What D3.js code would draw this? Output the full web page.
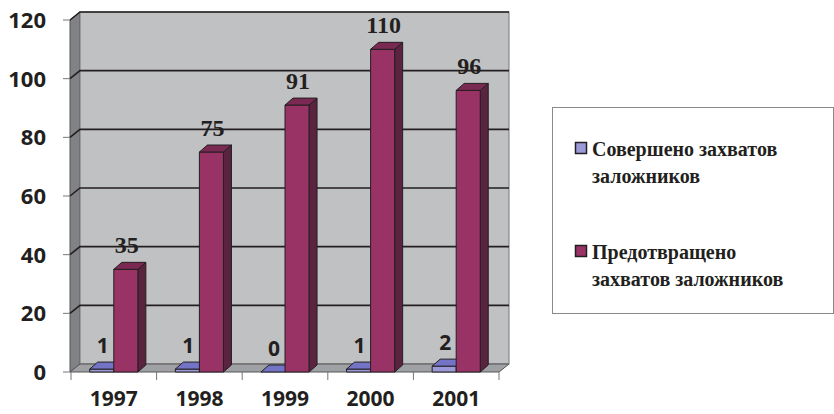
<!DOCTYPE html>
<html>
<head>
<meta charset="utf-8">
<script src="https://cdn.jsdelivr.net/npm/d3@7"></script>
<style>
  html, body { margin: 0; padding: 0; background: #fff; }
  svg { display: block; }
  .serif { font-family: "Liberation Serif", "DejaVu Serif", "Noto Serif", serif; font-weight: bold; }
  .sans { font-family: "Open Sans", "Liberation Sans", sans-serif; font-weight: bold; }
</style>
</head>
<body>
<svg id="chart" width="834" height="414"></svg>
<script>
// Hostage-taking statistics by year
const years = ["1997", "1998", "1999", "2000", "2001"];
const committed = [1, 1, 0, 1, 2];        // Совершено захватов заложников
const prevented = [35, 75, 91, 110, 96];  // Предотвращено захватов заложников
const seriesNames = ["Совершено захватов заложников", "Предотвращено захватов заложников"];
const legendLines = [["Совершено захватов", "заложников"], ["Предотвращено", "захватов заложников"]];
const yTicks = [0, 20, 40, 60, 80, 100, 120];

const svg = d3.select("#chart");

// plot geometry
const x0 = 71, x1 = 499, yBase = 372, yTop = 20;
const wallDX = 10, wallDY = -8;   // depth of walls/floor
const barDX = 8, barDY = -7;      // depth of bars

const x = d3.scaleBand().domain(years).range([x0, x1]).padding(0);
const xs = d3.scaleBand().domain(seriesNames).range([0, x.bandwidth()])
  .paddingInner(0).paddingOuter(0.78);
const y = d3.scaleLinear().domain([0, 120]).range([yBase, yTop]);

const seriesColors = [
  { front: "#9a9ad8", top: "#7474c6", side: "#5c5ca8" },
  { front: "#993366", top: "#7a2952", side: "#5a2340" }
];
const lineCol = "#231f20";

const pts = a => a.map(p => p.join(",")).join(" ");

// left wall
svg.append("polygon")
  .attr("points", pts([[x0 - 1, y(0)], [x0 - 1, y(120)], [x0 - 1 + wallDX, y(120) + wallDY], [x0 - 1 + wallDX, y(0) + wallDY]]))
  .attr("fill", "#808285").attr("stroke", "#555").attr("stroke-width", 1);

// back wall
svg.append("rect")
  .attr("x", x0 - 1 + wallDX).attr("y", y(120) + wallDY)
  .attr("width", x1 - x0 + 1).attr("height", y(0) - y(120))
  .attr("fill", "#c0c1c3").attr("stroke", "#777").attr("stroke-width", 1);

// floor
svg.append("polygon")
  .attr("points", pts([[x0 - 1, y(0)], [x1, y(0)], [x1 + wallDX, y(0) + wallDY], [x0 - 1 + wallDX, y(0) + wallDY]]))
  .attr("fill", "#a0a1a4").attr("stroke", "#555").attr("stroke-width", 1);

// gridlines on side and back walls
const grid = svg.append("g");
yTicks.filter(t => t > 0).forEach(t => {
  grid.append("polyline")
    .attr("points", pts([[x0 - 1, y(t)], [x0 - 1 + wallDX, y(t) + wallDY], [x1 + wallDX, y(t) + wallDY]]))
    .attr("fill", "none").attr("stroke", lineCol).attr("stroke-width", 1.6);
});

// y axis ticks and labels
const yAxis = svg.append("g");
yTicks.forEach(t => {
  yAxis.append("line").attr("x1", x0 - 8).attr("x2", x0 - 1)
    .attr("y1", y(t)).attr("y2", y(t)).attr("stroke", "#777").attr("stroke-width", 1);
  yAxis.append("text").attr("class", "sans").attr("x", 46).attr("y", y(t)).attr("dy", "0.36em")
    .attr("text-anchor", "end").style("font-size", "22px").attr("fill", lineCol).text(t);
});

// x axis ticks and labels
const xAxis = svg.append("g");
[x0].concat(years.map(d => x(d) + x.bandwidth())).forEach(px => {
  xAxis.append("line").attr("x1", px).attr("x2", px)
    .attr("y1", yBase).attr("y2", yBase + 8).attr("stroke", "#777").attr("stroke-width", 1);
});
years.forEach(d => {
  xAxis.append("text").attr("class", "sans").attr("x", x(d) + x.bandwidth() / 2).attr("y", 406)
    .attr("text-anchor", "middle").style("font-size", "21px").attr("fill", lineCol).text(d);
});

// 3D bars
const bars = svg.append("g");
const labels = [];
years.forEach((yr, i) => {
  [committed[i], prevented[i]].forEach((v, s) => {
    const bx = x(yr) + xs(seriesNames[s]);
    const bw = xs.bandwidth();
    const yt = y(v), yb = y(0);
    const c = seriesColors[s];
    const g = bars.append("g").attr("stroke", lineCol).attr("stroke-width", 1).attr("stroke-linejoin", "round");
    // side face
    g.append("polygon").attr("fill", c.side)
      .attr("points", pts([[bx + bw, yb], [bx + bw, yt], [bx + bw + barDX, yt + barDY], [bx + bw + barDX, yb + barDY]]));
    // front face
    if (yb - yt > 0) {
      g.append("rect").attr("x", bx).attr("y", yt).attr("width", bw).attr("height", yb - yt).attr("fill", c.front);
    }
    // top face
    g.append("polygon").attr("fill", c.top)
      .attr("points", pts([[bx, yt], [bx + bw, yt], [bx + bw + barDX, yt + barDY], [bx + barDX, yt + barDY]]));
    labels.push({ x: bx + bw / 2 + 1, y: yt + barDY - 9, v, s });
  });
});

// value labels (committed: sans, prevented: serif)
svg.append("g").selectAll("text").data(labels).join("text")
  .attr("class", d => d.s === 0 ? "sans" : "serif")
  .attr("x", d => d.x).attr("y", d => d.y)
  .attr("text-anchor", "middle")
  .style("font-size", d => d.s === 0 ? "21px" : "24px").attr("fill", lineCol)
  .text(d => d.v);

// legend
const legend = svg.append("g");
legend.append("rect").attr("x", 552.5).attr("y", 107.5).attr("width", 281).attr("height", 206)
  .attr("fill", "#fff").attr("stroke", "#8a8a8a").attr("stroke-width", 1);
const legendTop = [156, 259];
seriesNames.forEach((name, s) => {
  const ly = legendTop[s];
  legend.append("rect").attr("x", 575.5).attr("y", ly - 13.5).attr("width", 11).attr("height", 11)
    .attr("fill", seriesColors[s].front).attr("stroke", lineCol).attr("stroke-width", 1.5);
  legendLines[s].forEach((line, k) => {
    legend.append("text").attr("class", "serif").attr("x", 592).attr("y", ly + k * 27)
      .style("font-size", "20px").attr("fill", lineCol).text(line);
  });
});
</script>
</body>
</html>
